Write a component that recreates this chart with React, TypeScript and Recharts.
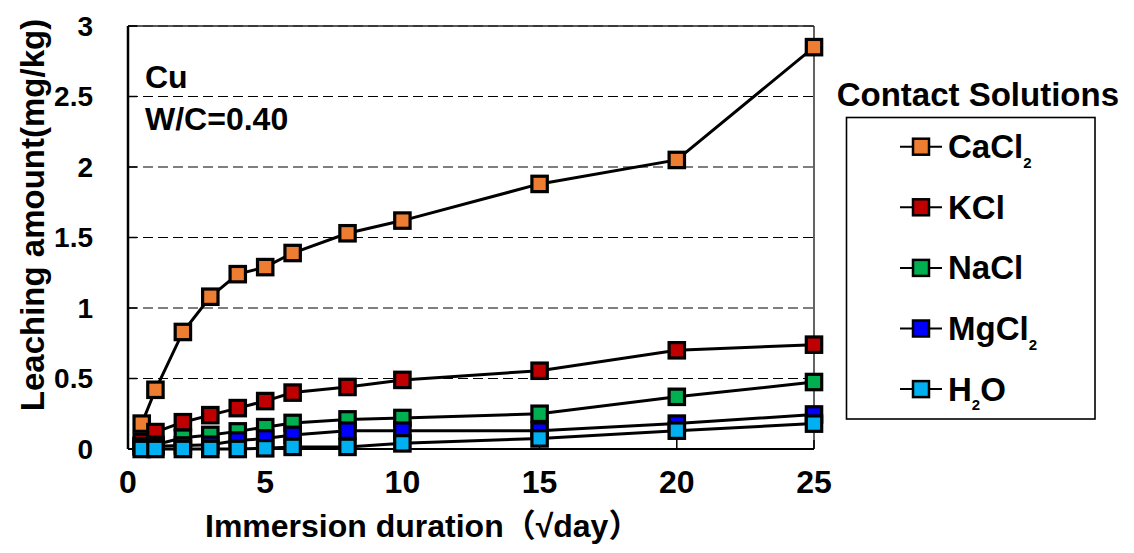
import React from 'react';
import {
  LineChart,
  Line,
  XAxis,
  YAxis,
  CartesianGrid,
  ReferenceLine,
  Legend,
  Label,
  Customized,
} from 'recharts';

const FONT = "'Liberation Sans', Arial, Helvetica, 'Noto Sans CJK JP', sans-serif";

// Immersion duration (√day)
const durations = [0.5, 1, 2, 3, 4, 5, 6, 8, 10, 15, 20, 25];
// Leaching amount (mg/kg)
const cacl2 = [0.18, 0.42, 0.83, 1.08, 1.24, 1.29, 1.39, 1.53, 1.62, 1.88, 2.05, 2.85];
const kcl = [0.05, 0.12, 0.19, 0.24, 0.29, 0.34, 0.4, 0.44, 0.49, 0.555, 0.7, 0.74];
const nacl = [0.02, 0.03, 0.08, 0.1, 0.125, 0.155, 0.185, 0.21, 0.22, 0.25, 0.37, 0.475];
const mgcl2 = [0.02, 0.02, 0.025, 0.03, 0.06, 0.075, 0.1, 0.13, 0.13, 0.13, 0.18, 0.245];
const h2o = [0, 0, 0, 0, 0, 0.005, 0.015, 0.015, 0.04, 0.075, 0.13, 0.18];

const xTicks = [0, 5, 10, 15, 20, 25];
const yTicks = [0, 0.5, 1, 1.5, 2, 2.5, 3];

const seriesKeys = ['CaCl2', 'KCl', 'NaCl', 'MgCl2', 'H2O'];
const seriesFills = ['#ED7D31', '#C00000', '#00B050', '#0000FF', '#00B0F0'];
const seriesValues = [cacl2, kcl, nacl, mgcl2, h2o];

const annotationLines = ['Cu', 'W/C=0.40'];
const legendTitle = 'Contact Solutions';
const xTitle = 'Immersion duration（√day）';
const yTitle = 'Leaching amount(mg/kg)';

const data = durations.map((d, i) => {
  const row: Record<string, number> = { x: d };
  seriesKeys.forEach((k, s) => {
    row[k] = seriesValues[s][i];
  });
  return row;
});

const makeDot = (fill: string) => (props: any) => {
  const { cx, cy, index } = props;
  if (cx == null || cy == null) return <g key={`e-${index}`} />;
  return (
    <rect
      key={`d-${index}`}
      x={cx - 7.7}
      y={cy - 7.7}
      width={15.4}
      height={15.4}
      fill={fill}
      stroke="#000"
      strokeWidth={3.2}
    />
  );
};

const legendLabel = (key: string) => {
  const subStyle = { fontSize: 15 };
  if (key === 'CaCl2')
    return (
      <>
        CaCl<tspan dy={10} style={subStyle}>2</tspan>
      </>
    );
  if (key === 'MgCl2')
    return (
      <>
        MgCl<tspan dy={10} style={subStyle}>2</tspan>
      </>
    );
  if (key === 'H2O')
    return (
      <>
        H<tspan dy={9} style={subStyle}>2</tspan>
        <tspan dy={-9}>O</tspan>
      </>
    );
  return key;
};

const renderLegend = () => {
  return (
    <svg width={304} height={370} style={{ display: 'block', overflow: 'visible' }}>
      <text x={6.7} y={36} fontFamily={FONT} fontWeight="bold" fontSize={33} fill="#000">
        {legendTitle}
      </text>
      <rect x={16.5} y={47.5} width={248.5} height={301.5} fill="#fff" stroke="#000" strokeWidth={1.6} />
      {seriesKeys.map((k, i) => {
        const cy = 76.7 + 60.6 * i;
        return (
          <g key={k}>
            <line x1={70} x2={112} y1={cy} y2={cy} stroke="#000" strokeWidth={2} />
            <rect x={83} y={cy - 8} width={16} height={16} fill={seriesFills[i]} stroke="#000" strokeWidth={2.5} />
            <text x={118} y={cy + 11.5} fontFamily={FONT} fontWeight="bold" fontSize={33} fill="#000">
              {legendLabel(k)}
            </text>
          </g>
        );
      })}
    </svg>
  );
};

const XTitle = () => (
  <text x={205} y={537} fontFamily={FONT} fontWeight="bold" fontSize={32} fill="#000">
    {xTitle}
  </text>
);

const YTitle = () => (
  <text
    x={44}
    y={215}
    transform="rotate(-90 44 215)"
    textAnchor="middle"
    fontFamily={FONT}
    fontWeight="bold"
    fontSize={33}
    fill="#000"
  >
    {yTitle}
  </text>
);

const Annotation = () => (
  <g>
    {annotationLines.map((t, i) => (
      <text key={t} x={145} y={88 + i * 42} fontFamily={FONT} fontWeight="bold" fontSize={32} fill="#000">
        {t}
      </text>
    ))}
  </g>
);

export default function App() {
  return (
    <div style={{ position: 'absolute', left: 0, top: 0, width: 1134, height: 553, background: '#fff' }}>
      <LineChart
        width={1134}
        height={553}
        data={data}
        margin={{ top: 26, right: 320, left: 68, bottom: 44 }}
      >
        <CartesianGrid
          vertical={false}
          stroke="#000"
          strokeWidth={1.2}
          strokeDasharray="10 5"
        />
        <XAxis
          dataKey="x"
          type="number"
          domain={[0, 25]}
          ticks={xTicks}
          height={60}
          tickSize={-9}
          tickMargin={30}
          axisLine={{ stroke: '#000', strokeWidth: 2 }}
          tickLine={{ stroke: '#000', strokeWidth: 1.5 }}
          tick={{ fill: '#000', fontSize: 32, fontWeight: 'bold', fontFamily: FONT }}
          interval={0}
        >
          <Label content={XTitle} />
        </XAxis>
        <YAxis
          type="number"
          domain={[0, 3]}
          ticks={yTicks}
          width={60}
          tickSize={-9}
          tickMargin={44}
          axisLine={{ stroke: '#000', strokeWidth: 2.5 }}
          tickLine={{ stroke: '#000', strokeWidth: 1.5 }}
          tick={{ fill: '#000', fontSize: 28, fontWeight: 'bold', fontFamily: FONT }}
          interval={0}
        >
          <Label content={YTitle} />
        </YAxis>
        <ReferenceLine y={3} stroke="#222" strokeWidth={1.4} />
        <ReferenceLine x={25} stroke="#222" strokeWidth={1.4} />
        {seriesKeys.map((k, i) => (
          <Line
            key={k}
            dataKey={k}
            name={k}
            type="linear"
            stroke="#000"
            strokeWidth={3}
            dot={makeDot(seriesFills[i])}
            activeDot={false}
            isAnimationActive={false}
          />
        ))}
        <Legend
          layout="vertical"
          align="center"
          verticalAlign="middle"
          content={renderLegend}
          wrapperStyle={{ left: 830, top: 70, width: 304, height: 370 }}
        />
        <Customized component={Annotation} />
      </LineChart>
    </div>
  );
}
